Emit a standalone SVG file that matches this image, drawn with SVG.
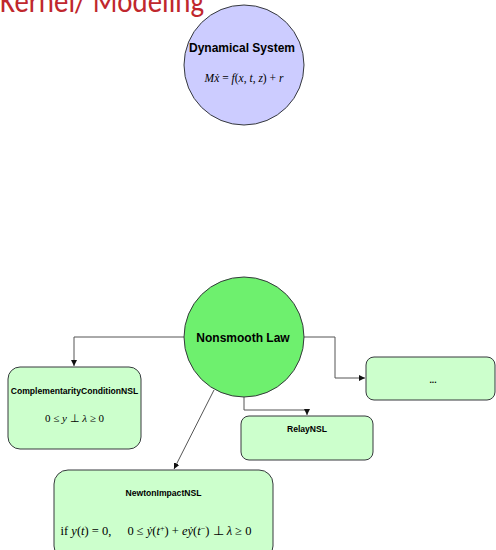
<svg xmlns="http://www.w3.org/2000/svg" width="496" height="550" viewBox="0 0 496 550">
  <defs>
    <marker id="arrow" viewBox="0 0 10 10" refX="10" refY="5" markerWidth="6" markerHeight="6" orient="auto" markerUnits="userSpaceOnUse">
      <path d="M0,0 L10,5 L0,10 z" fill="#111"/>
    </marker>
  </defs>
  <style>
    .title { font-family: "Calibri", "Carlito", "Liberation Sans", sans-serif; fill: #c0272d; font-size: 32px; }
    .circle { stroke: #36393d; stroke-width: 1; }
    .box { fill: #ccffcc; stroke: #36393d; stroke-width: 1; }
    .label { font-family: "Liberation Sans", Arial, sans-serif; font-weight: bold; fill: #000; text-anchor: middle; }
    .math { font-family: "Liberation Serif", "Times New Roman", serif; font-style: italic; fill: #000; text-anchor: middle; }
    .rm { font-style: normal; }
    .wire { fill: none; stroke: #555; stroke-width: 1; }
  </style>
  <rect width="496" height="550" fill="#fff"/>

  <text class="title" x="0" y="12" textLength="204" lengthAdjust="spacingAndGlyphs">Kernel/ Modeling</text>

  <g id="connectors">
    <polyline class="wire" points="184,337 74,337 74,366" marker-end="url(#arrow)"/>
    <polyline class="wire" points="304,337 335,337 335,378 365,378" marker-end="url(#arrow)"/>
    <polyline class="wire" points="244,397 244,410 307,410 307,415" marker-end="url(#arrow)"/>
    <line class="wire" x1="214" y1="390" x2="174" y2="469" marker-end="url(#arrow)"/>
  </g>

  <g id="dynamical-system">
    <circle class="circle" cx="244" cy="65" r="60" fill="#ccccff"/>
    <text class="label" x="242" y="52" font-size="12">Dynamical System</text>
    <text class="math" x="244" y="82" font-size="11.5">Mẋ<tspan class="rm"> = </tspan>f<tspan class="rm">(</tspan>x<tspan class="rm">, </tspan>t<tspan class="rm">, </tspan>z<tspan class="rm">) + </tspan>r</text>
  </g>

  <g id="nonsmooth-law">
    <circle class="circle" cx="244" cy="337" r="60" fill="#6ef06e"/>
    <text class="label" x="243" y="342" font-size="12">Nonsmooth Law</text>
  </g>

  <g id="complementarity-nsl">
    <rect class="box" x="8" y="367" width="133" height="82" rx="12"/>
    <text class="label" x="74.5" y="394" font-size="8.6">ComplementarityConditionNSL</text>
    <text class="math" x="74.5" y="422" font-size="11"><tspan class="rm">0 ≤ </tspan>y<tspan class="rm"> ⊥ </tspan>λ<tspan class="rm"> ≥ 0</tspan></text>
  </g>

  <g id="relay-nsl">
    <rect class="box" x="241" y="416" width="132" height="44" rx="8"/>
    <text class="label" x="307" y="432" font-size="8.6">RelayNSL</text>
  </g>

  <g id="other-nsl">
    <rect class="box" x="366" y="357" width="129" height="43" rx="8"/>
    <text class="label" x="433" y="383" font-size="8.6">...</text>
  </g>

  <g id="newton-impact-nsl">
    <rect class="box" x="54" y="470" width="219" height="90" rx="14"/>
    <text class="label" x="163.5" y="496" font-size="8.6">NewtonImpactNSL</text>
    <text class="math" x="156" y="535" font-size="12.5"><tspan class="rm">if </tspan>y<tspan class="rm">(</tspan>t<tspan class="rm">) = 0,</tspan><tspan class="rm" dx="16">0 ≤ </tspan>ẏ<tspan class="rm">(</tspan>t<tspan class="rm" baseline-shift="super" font-size="8">+</tspan><tspan class="rm">) + </tspan>eẏ<tspan class="rm">(</tspan>t<tspan class="rm" baseline-shift="super" font-size="8">−</tspan><tspan class="rm">) ⊥ </tspan>λ<tspan class="rm"> ≥ 0</tspan></text>
  </g>
</svg>
